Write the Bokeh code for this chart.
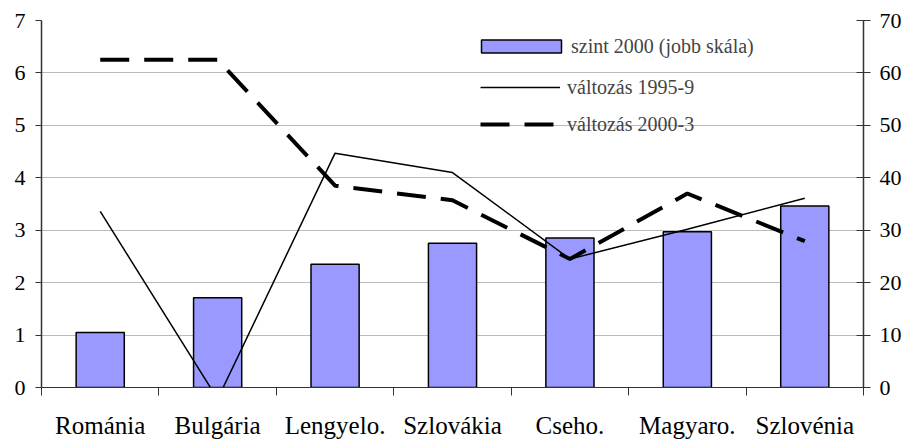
from bokeh.plotting import figure
from bokeh.models import (Range1d, LinearAxis, FixedTicker, Legend, LegendItem,
                          ColumnDataSource)
from bokeh.embed import file_html
from bokeh.resources import INLINE
import numpy as np

categories = ["Románia", "Bulgária", "Lengyelo.", "Szlovákia", "Cseho.", "Magyaro.", "Szlovénia"]
level_2000 = [10.5, 17.1, 23.5, 27.5, 28.5, 29.7, 34.6]        # right scale
change_1995_9 = [3.36, -0.22, 4.47, 4.10, 2.45, 3.02, 3.61]   # left scale
change_2000_3 = [6.25, 6.25, 3.85, 3.57, 2.45, 3.70, 2.79]    # left scale
left_ticks = [0, 1, 2, 3, 4, 5, 6, 7]
right_ticks = [0, 10, 20, 30, 40, 50, 60, 70]

xs = np.arange(len(categories)) + 0.5
src = ColumnDataSource(dict(x=xs, lvl=level_2000, a=change_1995_9, b=change_2000_3))

FONT = "Liberation Serif"
AX = "#333333"

p = figure(frame_width=822, frame_height=367, output_backend="svg", toolbar_location=None,
           x_range=Range1d(0, len(categories)), y_range=Range1d(0, 7),
           min_border_left=41, min_border_right=38, min_border_top=20, min_border_bottom=44,
           x_axis_location=None, y_axis_location=None)
p.outline_line_color = None
p.background_fill_color = "white"
p.border_fill_color = "white"
p.extra_y_ranges = {"right": Range1d(0, 70)}

bars = p.vbar(x="x", top="lvl", width=0.41, source=src, y_range_name="right",
              fill_color="#9999FF", line_color="black", line_width=1.5)
l1 = p.line(x="x", y="a", source=src, line_color="black", line_width=1.5)
l2 = p.line(x="x", y="b", source=src, line_color="black", line_width=4,
            line_dash="29 15", line_cap="butt")

# bottom axis
xax = LinearAxis(ticker=FixedTicker(ticks=list(xs), minor_ticks=list(range(len(categories) + 1))))
xax.major_label_overrides = {float(x): c for x, c in zip(xs, categories)}
xax.major_tick_out = 0
xax.major_tick_in = 0
xax.minor_tick_out = 8
xax.minor_tick_in = 0
xax.minor_tick_line_color = AX
xax.axis_line_color = AX
xax.major_label_standoff = 16
xax.major_label_text_font = FONT
xax.major_label_text_font_size = "25px"
xax.major_label_text_color = "black"
p.add_layout(xax, "below")

# left axis
lax = LinearAxis(ticker=FixedTicker(ticks=left_ticks, minor_ticks=[]))
lax.major_tick_out = 6
lax.major_tick_in = 0
lax.major_tick_line_color = AX
lax.axis_line_color = AX
lax.axis_line_width = 1.5
lax.major_label_standoff = 10
lax.major_label_text_font = FONT
lax.major_label_text_font_size = "22px"
lax.major_label_text_color = "black"
p.add_layout(lax, "left")

# right axis
rax = LinearAxis(y_range_name="right", ticker=FixedTicker(ticks=right_ticks, minor_ticks=[]))
rax.major_tick_out = 7
rax.major_tick_in = 7
rax.major_tick_line_color = AX
rax.axis_line_color = AX
rax.axis_line_width = 1.5
rax.major_label_standoff = 9
rax.major_label_text_font = FONT
rax.major_label_text_font_size = "22px"
rax.major_label_text_color = "black"
p.add_layout(rax, "right")

p.xgrid.visible = False
p.ygrid.ticker = FixedTicker(ticks=left_ticks)
p.ygrid.grid_line_color = "#BBBBBB"
p.ygrid.grid_line_width = 1

leg1 = Legend(items=[LegendItem(label="szint 2000 (jobb skála)", renderers=[bars])],
              location=(430, 329), glyph_width=100, glyph_height=16, label_standoff=-3,
              padding=0, margin=0, spacing=0, border_line_color=None,
              background_fill_alpha=0, label_text_font=FONT, label_text_font_size="20px",
              label_height=24)
leg2 = Legend(items=[LegendItem(label="változás 1995-9", renderers=[l1]),
                     LegendItem(label="változás 2000-3", renderers=[l2])],
              location=(439, 251), glyph_width=80, glyph_height=24, label_standoff=7,
              padding=0, margin=0, spacing=13, border_line_color=None,
              background_fill_alpha=0, label_text_font=FONT, label_text_font_size="20px",
              label_height=24)
p.add_layout(leg1)
p.add_layout(leg2)

open("out.html", "w").write(file_html(p, INLINE))
